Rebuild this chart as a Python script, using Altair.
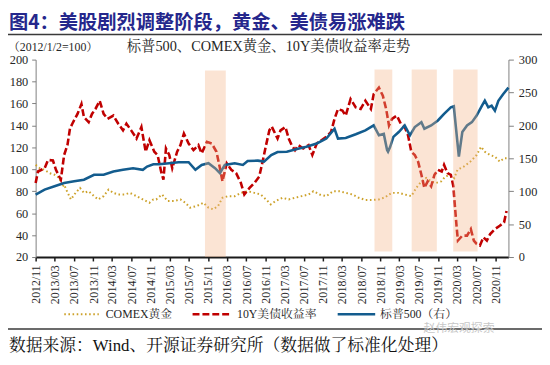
import altair as alt
import pandas as pd

# ---------------- data ----------------
red_dates = ["2012/11/01","2012/11/16","2012/12/28","2013/01/19","2013/02/19","2013/03/10","2013/04/10","2013/05/01",
             "2013/05/22","2013/06/07","2013/06/22","2013/07/25","2013/08/19","2013/09/04","2013/10/04","2013/10/25",
             "2013/11/16","2013/12/13","2014/01/07","2014/02/01","2014/03/10","2014/04/10","2014/05/10","2014/06/01",
             "2014/07/01","2014/08/04","2014/09/04","2014/10/01","2014/10/25","2014/11/25","2014/12/16","2015/01/07",
             "2015/01/22","2015/02/07","2015/02/28","2015/03/19","2015/04/19","2015/05/10","2015/06/01","2015/07/01",
             "2015/08/01","2015/09/01","2015/09/22","2015/10/25","2015/11/25","2015/12/25","2016/01/16","2016/02/01",
             "2016/02/28","2016/03/28","2016/04/28","2016/05/28","2016/06/19","2016/07/22","2016/08/22","2016/09/22",
             "2016/10/13","2016/11/04","2016/11/25","2016/12/10","2017/01/16","2017/02/04","2017/03/07","2017/03/28",
             "2017/04/16","2017/05/07","2017/05/28","2017/06/28","2017/08/01","2017/08/25","2017/09/22","2017/10/22",
             "2017/11/22","2017/12/22","2018/01/13","2018/02/04","2018/03/04","2018/03/25","2018/04/25","2018/05/28",
             "2018/06/28","2018/07/28","2018/09/01","2018/09/19","2018/10/22","2018/11/16","2018/12/07","2018/12/25",
             "2019/01/13","2019/02/13","2019/03/10","2019/04/04","2019/04/25","2019/05/16","2019/06/07","2019/06/28",
             "2019/07/19","2019/08/07","2019/08/28","2019/09/19","2019/10/10","2019/11/01","2019/11/25","2019/12/10",
             "2020/01/01","2020/01/22","2020/02/07","2020/02/16","2020/02/28","2020/03/07","2020/04/04","2020/05/04",
             "2020/05/28","2020/06/16","2020/07/04","2020/07/25","2020/08/16","2020/09/07","2020/09/28","2020/10/28",
             "2020/11/28","2020/12/25","2021/01/10"]
red_vals = [87.5, 98, 101, 108.5, 108, 99.5, 90.5, 113,
            122, 137, 141.5, 150.5, 159.5, 147.5, 143, 150.5,
            155, 162.5, 150.5, 146, 149, 141.5, 135.5, 141.5,
            135.5, 128, 138.5, 116, 126.5, 116, 113, 98,
            90.5, 119, 113, 101, 116, 122, 132.5, 123.5,
            117.5, 122, 114.5, 125, 123.5, 116, 101, 89,
            105.5, 99.5, 96.5, 87.5, 77, 83, 87.5, 93.5,
            107, 122, 135.5, 139, 128, 135.5, 138.5, 128,
            122, 117.5, 122, 119, 122, 113, 123.5, 126.5,
            129.5, 134, 146, 155, 153.5, 149, 164, 156.5,
            155, 162.5, 155, 168.5, 174.5, 167, 155, 140,
            146, 149, 141.5, 138.5, 131, 116, 113, 107,
            95, 83, 89, 84.5, 95, 99.5, 98, 104,
            96.5, 95, 84.5, 68, 47, 35, 39.5, 39.5,
            45.5, 35, 32, 30.5, 38, 35, 41, 45.5,
            48.5, 51.5, 62]

gold_dates = ["2012/11/01","2012/11/28","2012/12/28","2013/01/28","2013/03/01","2013/04/01","2013/04/19","2013/05/01",
              "2013/05/22","2013/06/13","2013/07/13","2013/08/10","2013/09/04","2013/10/04","2013/11/07","2013/12/04",
              "2014/01/07","2014/02/07","2014/03/10","2014/04/10","2014/05/22","2014/06/22","2014/08/04","2014/09/13",
              "2014/10/25","2014/11/19","2014/12/07","2015/01/13","2015/02/19","2015/03/28","2015/05/10","2015/06/10",
              "2015/07/10","2015/08/22","2015/10/04","2015/11/04","2015/12/04","2016/01/04","2016/02/01","2016/03/07",
              "2016/04/19","2016/05/28","2016/07/10","2016/08/22","2016/10/01","2016/11/04","2016/12/04","2017/01/04",
              "2017/02/16","2017/03/28","2017/05/07","2017/06/19","2017/08/01","2017/09/01","2017/10/10","2017/11/22",
              "2018/01/04","2018/02/13","2018/03/25","2018/05/07","2018/06/16","2018/07/28","2018/09/10","2018/10/22",
              "2018/12/01","2018/12/25","2019/01/13","2019/02/25","2019/04/04","2019/05/16","2019/06/16","2019/07/19",
              "2019/08/19","2019/09/19","2019/10/19","2019/11/22","2019/12/19","2020/01/22","2020/02/13","2020/03/04",
              "2020/04/13","2020/05/25","2020/07/04","2020/08/01","2020/08/25","2020/09/28","2020/10/28","2020/11/28",
              "2020/12/25","2021/01/16"]
gold_vals = [104, 101, 99.5, 96.5, 95, 92, 84, 86,
             79, 72.5, 78.5, 83, 78.5, 80, 75.5, 72.5,
             75.5, 81.5, 78.5, 77, 77, 78.5, 75.5, 72.5,
             69.5, 72.5, 72.5, 77, 71, 71, 72.5, 69.5,
             65, 66.5, 69.5, 65, 63.5, 66.5, 74, 75.5,
             75.5, 78.5, 80, 78.5, 77, 72.5, 68, 71,
             74, 72.5, 74, 75.5, 77, 80, 77, 75.5,
             80, 80, 78.5, 77, 74, 72, 72, 72.5,
             74.5, 77, 78.5, 78.5, 77, 75.5, 83, 89,
             92, 89, 87.5, 89, 93.5, 95, 92, 99.5,
             102.5, 107, 113, 120.5, 116, 113, 111.5, 107,
             110, 110]

spx_dates = ["2012/11/01","2012/12/28","2013/03/01","2013/05/01","2013/07/04","2013/09/04","2013/11/07","2014/01/07",
             "2014/03/10","2014/05/10","2014/07/13","2014/09/13","2014/10/10","2014/11/19","2014/12/25","2015/02/28",
             "2015/04/28","2015/07/01","2015/08/13","2015/09/22","2015/11/04","2015/12/16","2016/01/16","2016/02/16",
             "2016/04/19","2016/06/10","2016/07/10","2016/09/13","2016/10/22","2016/12/07","2017/01/16","2017/03/16",
             "2017/05/19","2017/07/19","2017/09/22","2017/11/22","2018/01/13","2018/02/04","2018/03/25","2018/05/28",
             "2018/07/28","2018/09/19","2018/10/22","2018/11/22","2018/12/13","2018/12/19","2019/01/01","2019/01/22",
             "2019/02/25","2019/04/04","2019/05/07","2019/06/07","2019/07/19","2019/08/07","2019/09/19","2019/11/01",
             "2019/12/10","2020/01/22","2020/02/10","2020/02/22","2020/03/13","2020/04/04","2020/05/04","2020/06/04",
             "2020/07/04","2020/08/07","2020/08/25","2020/09/16","2020/10/07","2020/10/28","2020/11/19","2020/12/19",
             "2021/01/22"]
spx_vals = [95, 102.5, 107.5, 112.5, 115, 117.5, 125, 125,
            130, 132.5, 135, 132.5, 137.5, 141, 141, 142.5,
            144, 144, 132.5, 140, 142.5, 135, 127.5, 140,
            142.5, 140, 146, 146.5, 145, 155, 159.5, 160,
            164, 167.5, 172.5, 180, 195, 180, 181, 186.5,
            192.5, 200, 185, 187, 162.5, 160, 167, 182.5,
            190, 200, 185, 197.5, 205, 195, 200, 207.5,
            217.5, 227.5, 229, 200, 152.5, 190, 200, 205,
            215, 230, 237.5, 227.5, 230, 222.5, 237.5, 247.5,
            257.5]

shade_start = ["2015/10/13", "2018/09/24", "2019/05/18", "2020/02/06"]
shade_end = ["2016/02/22", "2019/01/15", "2019/10/25", "2020/07/10"]
shade_top = [190, 191, 191, 191]
shade_bottom = [20, 25, 25, 25]

x_tick_labels = ["2012/11", "2013/03", "2013/07", "2013/11", "2014/03", "2014/07", "2014/11", "2015/03",
                 "2015/07", "2015/11", "2016/03", "2016/07", "2016/11", "2017/03", "2017/07", "2017/11",
                 "2018/03", "2018/07", "2018/11", "2019/03", "2019/07", "2019/11", "2020/03", "2020/07",
                 "2020/11"]
left_ticks = [20, 40, 60, 80, 100, 120, 140, 160, 180, 200]
right_ticks = [0, 50, 100, 150, 200, 250, 300]

TITLE = "图4：美股剧烈调整阶段，黄金、美债易涨难跌"
SUBTITLE = "（2012/1/2=100）"
CHART_TITLE = "标普500、COMEX黄金、10Y美债收益率走势"
LEG_GOLD = "COMEX黄金"
LEG_RED = "10Y美债收益率"
LEG_SPX = "标普500（右）"
SOURCE = "数据来源：Wind、开源证券研究所（数据做了标准化处理）"
WATERMARK = "赵伟宏观探索"

# ---------------- styling ----------------
SERIF = "Liberation Serif, Noto Serif CJK SC, Noto Sans CJK SC"
CJK = "Noto Sans CJK SC"
GOLD = "#CDA22B"
RED = "#C00000"
BLUE = "#135C8E"
TXT = "#262626"

W, H = 479, 200

x_scale = alt.Scale(domain=[alt.DateTime(year=2012, month=11, date=1),
                            alt.DateTime(year=2021, month=1, date=22)])
x_axis = alt.Axis(values=[alt.DateTime(year=int(s[:4]), month=int(s[5:]), date=1) for s in x_tick_labels],
                  format="%Y/%m", labelAngle=270, labelAlign="right", labelBaseline="middle",
                  labelFont=SERIF, labelFontSize=12, labelColor=TXT, labelFlush=False, labelOverlap=False,
                  labelPadding=4, tickSize=4, tickColor="#1a1a1a", tickWidth=1.5,
                  domainColor="#1a1a1a", domainWidth=2, grid=False, title=None)

left_scale = alt.Scale(domain=[20, 200], nice=False, zero=False)
right_scale = alt.Scale(domain=[0, 300], nice=False, zero=False)

left_axis = alt.Axis(values=left_ticks, orient="left", labelFont=SERIF, labelFontSize=12.5, labelColor=TXT,
                     tickSize=4, labelPadding=4, tickColor="#7F7F7F", domainColor="#7F7F7F",
                     grid=False, title=None)
right_axis = alt.Axis(values=right_ticks, orient="right", labelFont=SERIF, labelFontSize=12.5, labelColor=TXT,
                      tickSize=5, labelPadding=5, tickColor="#7F7F7F", domainColor="#7F7F7F",
                      grid=False, title=None)

gold_df = pd.DataFrame({"d": gold_dates, "v": gold_vals})
red_df = pd.DataFrame({"d": red_dates, "v": red_vals})
spx_df = pd.DataFrame({"d": spx_dates, "v": spx_vals})
shade_df = pd.DataFrame({"s": shade_start, "e": shade_end, "t": shade_top, "b": shade_bottom})

gold = alt.Chart(gold_df).mark_line(color=GOLD, strokeWidth=2, strokeDash=[1.6, 2.6]).encode(
    x=alt.X("d:T", scale=x_scale, axis=x_axis),
    y=alt.Y("v:Q", scale=left_scale, axis=left_axis),
)
red = alt.Chart(red_df).mark_line(color=RED, strokeWidth=2.6, strokeDash=[7, 3]).encode(
    x=alt.X("d:T", scale=x_scale, axis=x_axis),
    y=alt.Y("v:Q", scale=left_scale, axis=None),
)
spx = alt.Chart(spx_df).mark_line(color=BLUE, strokeWidth=2.6).encode(
    x=alt.X("d:T", scale=x_scale, axis=x_axis),
    y=alt.Y("v:Q", scale=right_scale, axis=right_axis),
)
shades = alt.Chart(shade_df).mark_rect(color="#F4B183", opacity=0.35).encode(
    x=alt.X("s:T", scale=x_scale, axis=x_axis),
    x2="e:T",
    y=alt.Y("t:Q", scale=left_scale, axis=None),
    y2="b:Q",
)


def text_layer(txt, x, y, size, font=SERIF, color=TXT, align="left", weight="normal"):
    return alt.Chart(pd.DataFrame({"t": [txt]})).mark_text(
        align=align, baseline="middle", font=font, fontSize=size, color=color, fontWeight=weight
    ).encode(x=alt.value(x), y=alt.value(y), text="t:N")


def rule_layer(x1, x2, y, color, width, dash=None):
    kw = dict(color=color, strokeWidth=width)
    if dash:
        kw["strokeDash"] = dash
    return alt.Chart(pd.DataFrame({"a": [0]})).mark_rule(**kw).encode(
        x=alt.value(x1), x2=alt.value(x2), y=alt.value(y))


# view origin is at page (36, 58)
title = text_layer(TITLE, -27, -37, 19.5, font=CJK, color="#25278C", weight="bold")
top_rule = rule_layer(-28, 513, -25.5, "#3a3a3a", 1.6)
subtitle = text_layer(SUBTITLE, -28, -13, 12)
chart_title = text_layer(CHART_TITLE, 236, -13, 14.5, align="center")

leg_gold_line = rule_layer(29, 64, 258, GOLD, 2, [1.6, 2.6])
leg_gold_txt = text_layer(LEG_GOLD, 71, 258, 12)
leg_red_line = rule_layer(159, 196, 258, RED, 2.6, [7, 3])
leg_red_txt = text_layer(LEG_RED, 204, 258, 12)
leg_spx_line = rule_layer(306, 344, 258, BLUE, 2.6)
leg_spx_txt = text_layer(LEG_SPX, 349, 258, 12)

bottom_rule = rule_layer(-28, 513, 273, "#3a3a3a", 1.6)
watermark = text_layer(WATERMARK, 393, 272, 12, font=CJK, color="#C8C8C8")
source = text_layer(SOURCE, -27, 290, 17, color="#111111")

chart = alt.layer(
    gold, red, spx, shades,
    title, top_rule, subtitle, chart_title,
    leg_gold_line, leg_gold_txt, leg_red_line, leg_red_txt, leg_spx_line, leg_spx_txt,
    bottom_rule, watermark, source,
).resolve_scale(y="independent").properties(
    width=W, height=H,
    padding={"left": 28, "top": 50, "right": 34, "bottom": 99},
    autosize=alt.AutoSizeParams(type="none"),
    background="white",
).configure_view(stroke=None)

chart.save("out.html", embed_options={"renderer": "svg", "actions": False})
